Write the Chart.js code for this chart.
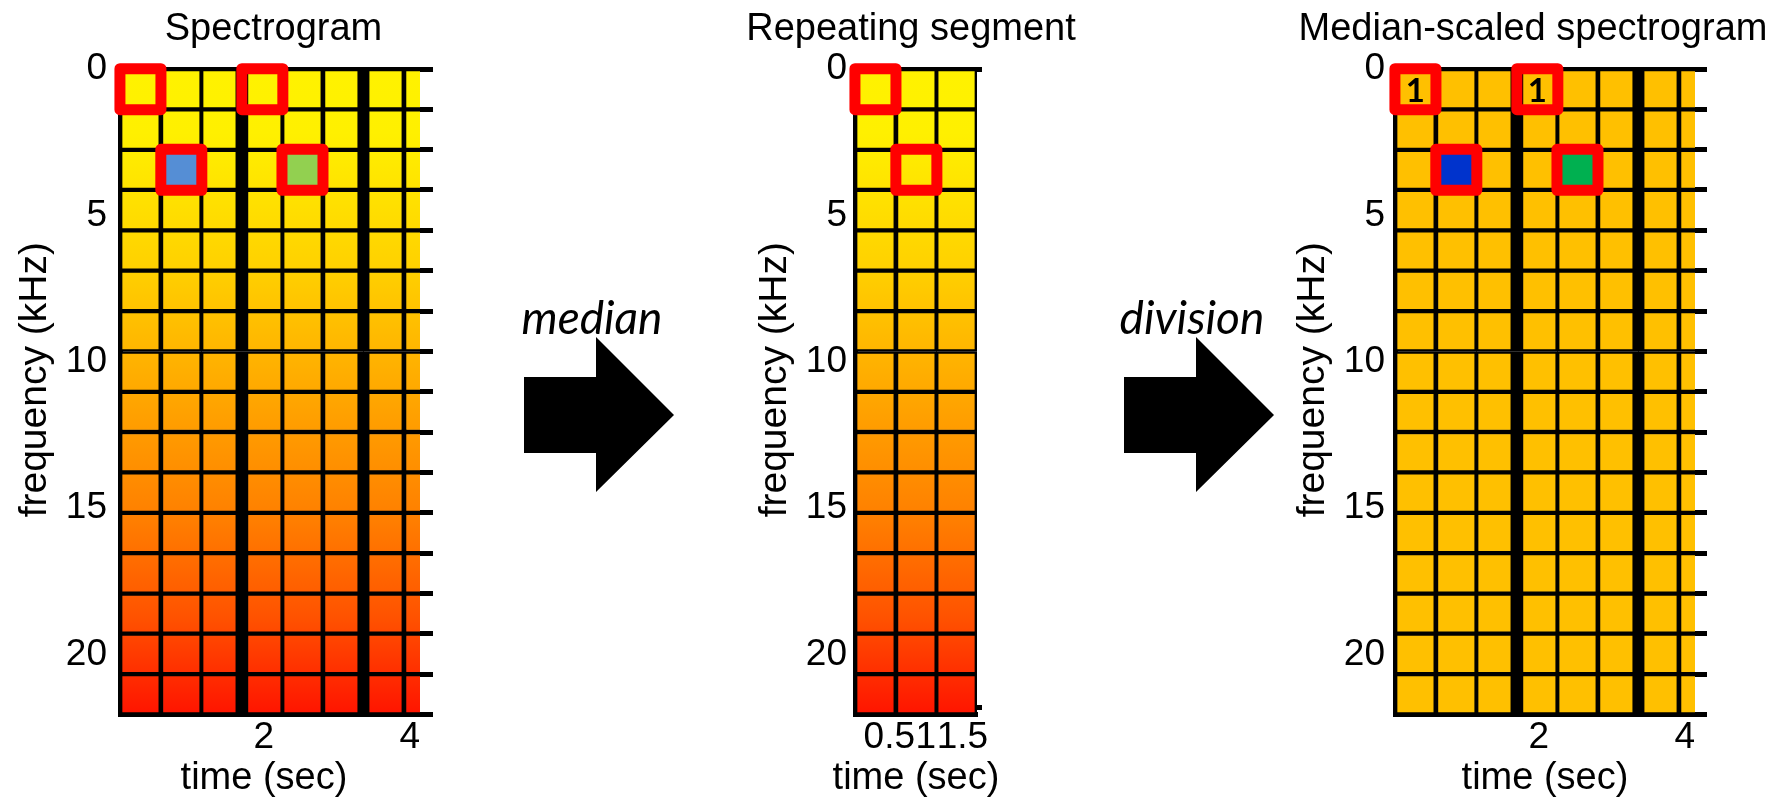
<!DOCTYPE html>
<html lang="en">
<head>
  <meta charset="UTF-8" />
  <title>Repeating pattern: median-scaled spectrogram</title>
  <script src="https://cdn.jsdelivr.net/npm/chart.js@4.4.1/dist/chart.umd.min.js"></script>
  <style>
    html, body { margin: 0; padding: 0; background: #fff; }
    body { position: relative; width: 1777px; height: 799px; overflow: hidden; }
    .panel { position: absolute; top: 0; height: 799px; }
    .op { position: absolute; top: 294px; width: 200px; text-align: center;
          font: italic 46px Lato, 'Open Sans', sans-serif; line-height: 1; color: #000; }
    svg { position: absolute; left: 0; top: 0; }
  </style>
</head>
<body>
  <div class="panel" style="left:0;width:547px"><canvas id="spectrogram"></canvas></div>
  <div class="panel" style="left:740px;width:342px"><canvas id="segment"></canvas></div>
  <div class="panel" style="left:1278px;width:510px"><canvas id="scaled"></canvas></div>

  <svg width="1777" height="799">
    <polygon points="524,377 596,377 596,337 674,415 596,492 596,453 524,453" fill="#000" />
    <polygon points="1124,377 1196,377 1196,337 1274,415 1196,492 1196,453 1124,453" fill="#000" />
  </svg>
  <div class="op" style="left:492px">median</div>
  <div class="op" style="left:1092px">division</div>

  <script>
    // frequency band edges (kHz), 16 bands up to Nyquist
    const freqEdges = [0, 1.38, 2.76, 4.13, 5.51, 6.89, 8.27, 9.65, 11.03, 12.4,
                       13.78, 15.16, 16.54, 17.92, 19.29, 20.67, 22.05];
    const freqTicks = [0, 5, 10, 15, 20];

    // frame centres (sec)
    const frameTimes = [0.31, 0.87, 1.42, 1.98, 2.53, 3.09, 3.64, 4.2];
    const segmentTimes = [0.31, 0.87, 1.42];
    const frameWidth = 0.555;
    const periodStarts = [3, 6];          // frames where a new repeat begins
    const timeTicks = [2, 4];
    const segmentTimeTicks = [0.5, 1, 1.5];
    const segmentEdgeTicks = [0, 21.8];

    // [frame, band] pairs
    const markedBins = [[0, 0], [3, 0], [1, 2], [4, 2]];
    const segmentMarkedBins = [[0, 0], [1, 2]];
    // [frame, band, kind] bins that break the repeating pattern
    const outlierBins = [[1, 2, 'low'], [4, 2, 'high']];
    // [frame, band, value] ratios written in the scaled spectrogram
    const ratioLabels = [[0, 0, 1], [3, 0, 1]];

    const FONT = "'Liberation Sans', Arial, sans-serif";
    Chart.defaults.font.family = FONT;
    Chart.defaults.color = '#000';
    Chart.defaults.animation = false;
    Chart.defaults.events = [];
    Chart.defaults.plugins.legend.display = false;
    Chart.defaults.plugins.tooltip.enabled = false;

    const warmStops = [[0, '#fff200'], [0.1, '#fff000'], [0.3, '#ffd200'], [0.5, '#ffa800'],
                       [0.7, '#ff7e00'], [0.85, '#ff5200'], [1, '#ff1400']];

    function spectrumFill(chart) {
      const a = chart.chartArea;
      if (!a) return '#ffc000';
      if (!chart.$grad || chart.$gradH !== a.bottom - a.top) {
        const g = chart.ctx.createLinearGradient(0, a.top, 0, a.bottom);
        warmStops.forEach(s => g.addColorStop(s[0], s[1]));
        chart.$grad = g;
        chart.$gradH = a.bottom - a.top;
      }
      return chart.$grad;
    }

    function buildCells(times) {
      const cells = [];
      times.forEach((t, f) => {
        for (let b = 0; b < freqEdges.length - 1; b++) {
          cells.push({ x: t, y: [freqEdges[b], freqEdges[b + 1]], frame: f, band: b });
        }
      });
      return cells;
    }

    function binCentre(times, bin) {
      return { x: times[bin[0]], y: (freqEdges[bin[1]] + freqEdges[bin[1] + 1]) / 2 };
    }

    function cellBorder(cell, periods) {
      const thin = 2.5, thick = 6.5;
      if (!cell) return thin;
      return {
        top: thin, bottom: thin,
        left: periods.includes(cell.frame) ? thick : thin,
        right: periods.includes(cell.frame + 1) ? thick : thin
      };
    }

    const fixedTicks = list => scale => { scale.ticks = list.map(v => ({ value: v })); };

    // rounded outer corners on the red markers
    const markStyle = {
      id: 'markStyle',
      beforeDatasetDraw(chart, args) { if (args.meta.type === 'scatter') chart.ctx.lineJoin = 'round'; },
      afterDatasetDraw(chart, args) { if (args.meta.type === 'scatter') chart.ctx.lineJoin = 'miter'; }
    };

    function ratioText(times, labels) {
      return {
        id: 'ratioText',
        afterDatasetsDraw(chart) {
          const { ctx, scales: { x, y } } = chart;
          ctx.save();
          ctx.font = "bold 33px Lato, 'DejaVu Sans', sans-serif";
          ctx.fillStyle = '#000';
          ctx.textAlign = 'center';
          ctx.textBaseline = 'alphabetic';
          labels.forEach(([f, b, v]) => {
            const px = x.getPixelForValue(times[f]);
            const py = y.getPixelForValue((freqEdges[b] + freqEdges[b + 1]) / 2);
            ctx.fillText(String(v), px, py + 12.5);
          });
          ctx.restore();
        }
      };
    }

    // axis captions, placed like the original figure (a scale title would
    // squeeze the caption under the narrow segment plot)
    function captions(p) {
      return {
        id: 'captions',
        afterDraw(chart) {
          const { ctx, chartArea: a } = chart;
          ctx.save();
          ctx.fillStyle = '#000';
          ctx.textAlign = 'center';
          ctx.textBaseline = 'middle';
          ctx.font = '38px ' + FONT;
          ctx.fillText('time (sec)', (a.left + a.right) / 2 + p.xCapDx, chart.height - 20.9);
          ctx.font = '39px ' + FONT;
          ctx.translate(35, (a.top + a.bottom) / 2 - 12);
          ctx.rotate(-Math.PI / 2);
          ctx.fillText('frequency (kHz)', 0, 0);
          ctx.restore();
        }
      };
    }

    function makePanel(id, p) {
      const plotW = p.width - p.leftW - p.rightW;
      const barPx = frameWidth * plotW / (p.xMax - p.xMin);
      const cells = buildCells(p.times);
      const marks = p.marked.map(m => binCentre(p.times, m));
      const plugins = [markStyle, captions(p)];
      if (p.labels) plugins.push(ratioText(p.times, p.labels));

      return new Chart(document.getElementById(id), {
        type: 'bar',
        data: {
          datasets: [
            {
              type: 'scatter',
              data: marks,
              order: 1,
              clip: false,
              pointStyle: 'rect',
              pointRadius: 29,
              borderWidth: 11,
              borderColor: '#ff0000',
              backgroundColor: 'rgba(0,0,0,0)'
            },
            {
              data: cells,
              order: 2,
              clip: 0,
              grouped: false,
              barThickness: barPx,
              borderSkipped: false,
              borderColor: '#000',
              borderWidth: ctx => cellBorder(ctx.raw, p.periods),
              backgroundColor: ctx => {
                const c = ctx.raw;
                const o = c && p.outliers.find(o => o[0] === c.frame && o[1] === c.band);
                if (o) return p.outlierColors[o[2]];
                return p.fill || spectrumFill(ctx.chart);
              }
            }
          ]
        },
        options: {
          responsive: true,
          maintainAspectRatio: false,
          layout: { padding: 0 },
          plugins: {
            title: {
              display: true,
              text: p.title,
              color: '#000',
              font: { size: 38, weight: 'normal', lineHeight: 1.2 },
              padding: { top: 7, bottom: 16.4 }
            }
          },
          scales: {
            x: {
              type: 'linear', position: 'bottom', min: p.xMin, max: p.xMax, offset: false,
              afterBuildTicks: fixedTicks(p.xTicks),
              afterFit: s => { s.height = 84.5; },
              grid: { display: false, drawTicks: false, offset: false },
              border: { display: true, color: '#000', width: 5 },
              ticks: { autoSkip: false, maxRotation: 0, minRotation: 0, color: '#000',
                       font: { size: 37 }, padding: 0.8, callback: v => String(v) }
            },
            xTop: {
              type: 'linear', position: 'top', min: p.xMin, max: p.xMax, offset: false,
              afterFit: s => { s.height = 0; },
              ticks: { display: false },
              grid: { display: false, drawTicks: false, offset: false },
              border: { display: true, color: '#000', width: 5 }
            },
            y: {
              type: 'linear', position: 'left', min: 0, max: 22.05, reverse: true,
              afterBuildTicks: fixedTicks(freqTicks),
              afterFit: s => { s.width = p.leftW; },
              grid: { display: false, drawTicks: false },
              border: { display: true, color: '#000', width: 5 },
              ticks: { autoSkip: false, color: '#000', font: { size: 37 }, padding: p.yTickPad }
            },
            y2: {
              type: 'linear', position: 'right', min: 0, max: 22.05, reverse: true,
              afterBuildTicks: fixedTicks(p.rightTicks),
              afterFit: s => { s.width = p.rightW; },
              ticks: { display: false },
              grid: { display: true, drawOnChartArea: false, drawTicks: true,
                      tickLength: p.stubLen, tickWidth: 5, tickColor: '#000' },
              border: { display: false }
            }
          }
        },
        plugins
      });
    }

    makePanel('spectrogram', {
      title: 'Spectrogram', width: 547, leftW: 120, rightW: 127,
      times: frameTimes, xMin: 0.03, xMax: 4.14, xTicks: timeTicks, xCapDx: -6,
      yTickPad: 13, rightTicks: freqEdges, stubLen: 13,
      periods: periodStarts, marked: markedBins, outliers: outlierBins,
      outlierColors: { low: '#558ed5', high: '#92d050' }, fill: null
    });

    makePanel('segment', {
      title: 'Repeating segment', width: 342, leftW: 115, rightW: 105,
      times: segmentTimes, xMin: 0.03, xMax: 1.70, xTicks: segmentTimeTicks, xCapDx: 0,
      yTickPad: 8, rightTicks: segmentEdgeTicks, stubLen: 5,
      periods: [], marked: segmentMarkedBins, outliers: [],
      outlierColors: {}, fill: null
    });

    makePanel('scaled', {
      title: 'Median-scaled spectrogram', width: 510, leftW: 117, rightW: 93,
      times: frameTimes, xMin: 0.03, xMax: 4.14, xTicks: timeTicks, xCapDx: 0,
      yTickPad: 10, rightTicks: freqEdges, stubLen: 12,
      periods: periodStarts, marked: markedBins, outliers: outlierBins,
      outlierColors: { low: '#0033cc', high: '#00b050' }, fill: '#ffc000',
      labels: ratioLabels
    });
  </script>
</body>
</html>
